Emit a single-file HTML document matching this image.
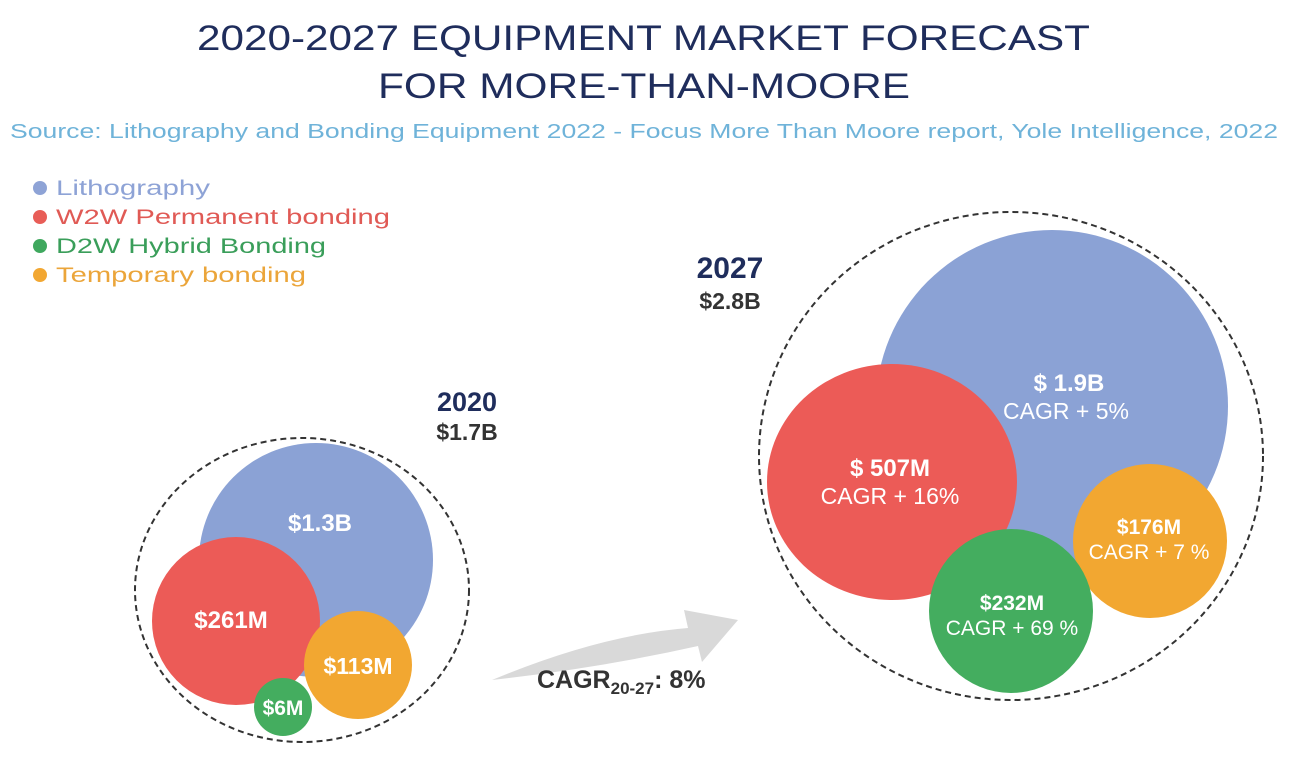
<!DOCTYPE html>
<html><head><meta charset="utf-8"><style>
html,body{margin:0;padding:0;background:#fff;}
svg{display:block;font-family:"Liberation Sans",sans-serif;}
</style></head><body>
<svg width="1293" height="769" viewBox="0 0 1293 769" xmlns="http://www.w3.org/2000/svg">
<rect width="1293" height="769" fill="#fff"/>
<text x="197" y="50" font-size="35" fill="#1f2d5c" textLength="893" lengthAdjust="spacingAndGlyphs">2020-2027 EQUIPMENT MARKET FORECAST</text>
<text x="378" y="98" font-size="35" fill="#1f2d5c" textLength="532" lengthAdjust="spacingAndGlyphs">FOR MORE-THAN-MOORE</text>
<text x="10" y="138" font-size="20" fill="#6fb3d9" textLength="1268" lengthAdjust="spacingAndGlyphs">Source: Lithography and Bonding Equipment 2022 - Focus More Than Moore report, Yole Intelligence, 2022</text>

<g font-size="21">
<circle cx="40" cy="188" r="7" fill="#8ea3d6"/><text x="56" y="195" fill="#8ea3d6" textLength="154" lengthAdjust="spacingAndGlyphs">Lithography</text>
<circle cx="40" cy="217" r="7" fill="#e85d57"/><text x="56" y="224" fill="#e05a55" textLength="334" lengthAdjust="spacingAndGlyphs">W2W Permanent bonding</text>
<circle cx="40" cy="246" r="7" fill="#3fa85e"/><text x="56" y="253" fill="#3a9e5a" textLength="270" lengthAdjust="spacingAndGlyphs">D2W Hybrid Bonding</text>
<circle cx="40" cy="275" r="7" fill="#f2a732"/><text x="56" y="282" fill="#eba53a" textLength="250" lengthAdjust="spacingAndGlyphs">Temporary bonding</text>
</g>

<!-- 2020 -->
<text x="467" y="411" font-size="27" font-weight="bold" fill="#1f2d5c" text-anchor="middle">2020</text>
<text x="467" y="440" font-size="23" font-weight="bold" fill="#333" text-anchor="middle">$1.7B</text>
<ellipse cx="302" cy="590" rx="167" ry="152" fill="none" stroke="#333" stroke-width="2" stroke-dasharray="6,4"/>
<circle cx="316" cy="560" r="117" fill="#8ba2d5"/>
<circle cx="236" cy="621" r="84" fill="#ec5b57"/>
<circle cx="358" cy="665" r="54" fill="#f2a731"/>
<circle cx="283" cy="707" r="29" fill="#44ad5f"/>
<g fill="#fff" font-weight="bold" text-anchor="middle">
<text x="320" y="531" font-size="24">$1.3B</text>
<text x="231" y="628" font-size="24">$261M</text>
<text x="358" y="674" font-size="23">$113M</text>
<text x="283" y="715" font-size="21">$6M</text>
</g>

<!-- arrow -->
<path d="M492 680 Q600 635 688 628 L684 610 L738 620 L702 662 L698 646 Q600 668 492 680 Z" fill="#d9d9d9"/>
<text x="537" y="688" font-size="25" font-weight="bold" fill="#333">CAGR<tspan font-size="17" dy="6">20-27</tspan><tspan dy="-6">: 8%</tspan></text>

<!-- 2027 -->
<text x="730" y="278" font-size="30" font-weight="bold" fill="#1f2d5c" text-anchor="middle">2027</text>
<text x="730" y="309" font-size="23" font-weight="bold" fill="#333" text-anchor="middle">$2.8B</text>
<ellipse cx="1011" cy="456" rx="252" ry="244" fill="none" stroke="#333" stroke-width="2" stroke-dasharray="6,4"/>
<circle cx="1052" cy="406" r="176" fill="#8ba2d5"/>
<ellipse cx="892" cy="482" rx="125" ry="118" fill="#ec5b57"/>
<circle cx="1150" cy="541" r="77" fill="#f2a731"/>
<circle cx="1011" cy="611" r="82" fill="#44ad5f"/>
<g fill="#fff" text-anchor="middle" font-size="23">
<text x="1069" y="391" font-weight="bold" font-size="24">$ 1.9B</text>
<text x="1066" y="419">CAGR +  5%</text>
<text x="890" y="476" font-weight="bold" font-size="24">$ 507M</text>
<text x="890" y="504">CAGR + 16%</text>
<text x="1149" y="534" font-weight="bold" font-size="21">$176M</text>
<text x="1149" y="559" font-size="21">CAGR + 7 %</text>
<text x="1012" y="610" font-weight="bold" font-size="21">$232M</text>
<text x="1012" y="635" font-size="21">CAGR + 69 %</text>
</g>
</svg>
</body></html>
